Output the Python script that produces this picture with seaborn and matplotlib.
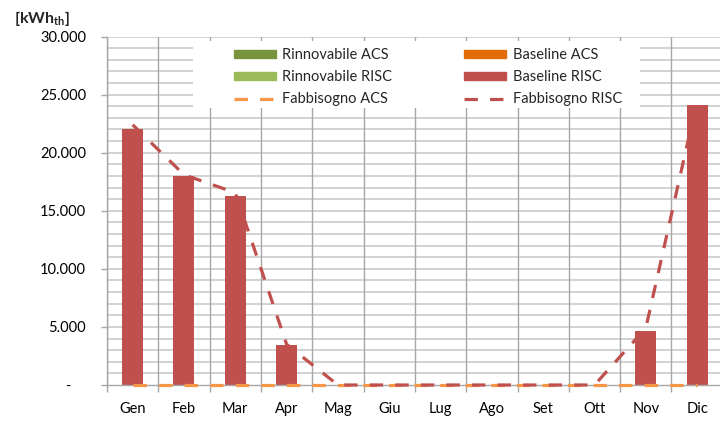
import matplotlib
matplotlib.use("Agg")
import matplotlib.pyplot as plt
from matplotlib.ticker import FixedLocator, FuncFormatter
from matplotlib.patches import Patch, Rectangle
from matplotlib.lines import Line2D
import seaborn as sns
import pandas as pd

sns.set_theme(style="white")
plt.rcParams["font.family"] = ["Lato", "DejaVu Sans"]
plt.rcParams["mathtext.fontset"] = "custom"
plt.rcParams["mathtext.rm"] = "Lato"
plt.rcParams["mathtext.bf"] = "Lato:bold"

# Monthly thermal energy [kWh_th]
mesi = ["Gen", "Feb", "Mar", "Apr", "Mag", "Giu",
        "Lug", "Ago", "Set", "Ott", "Nov", "Dic"]
rinnovabile_acs = [0, 0, 0, 0, 0, 0, 0, 0, 0, 0, 0, 0]
rinnovabile_risc = [0, 0, 0, 0, 0, 0, 0, 0, 0, 0, 0, 0]
baseline_acs = [0, 0, 0, 0, 0, 0, 0, 0, 0, 0, 0, 0]
baseline_risc = [22050, 18000, 16300, 3450, 0, 0, 0, 0, 0, 0, 4650, 24100]
fabbisogno_acs = [0, 0, 0, 0, 0, 0, 0, 0, 0, 0, 0, 0]
fabbisogno_risc = [22400, 18100, 16550, 3500, 0, 0, 0, 0, 0, 0, 4900, 24500]
y_ticks = [0, 5000, 10000, 15000, 20000, 25000, 30000]

df = pd.DataFrame({
    "mese": mesi,
    "rin_acs": rinnovabile_acs,
    "rin_risc": rinnovabile_risc,
    "base_acs": baseline_acs,
    "base_risc": baseline_risc,
    "fab_acs": fabbisogno_acs,
    "fab_risc": fabbisogno_risc,
})

C_RIN_ACS = "#77933C"
C_RIN_RISC = "#9BBB59"
C_BASE_ACS = "#E36C09"
C_BASE_RISC = "#C0504D"
C_FAB_ACS = "#F79646"
C_FAB_RISC = "#C0504D"
DASH = (4.2, 3.8)

fig = plt.figure(figsize=(7.2, 4.21), dpi=100)
W, H = 720, 421
x0, x1, y0, y1 = 107, 722.8, 385, 36.5
ax = fig.add_axes([x0 / W, 1 - y0 / H, (x1 - x0) / W, (y0 - y1) / H])

bw = 0.41
# stacked columns: renewables first, baseline on top
bottom = [0] * len(mesi)
series = [("rin_acs", C_RIN_ACS), ("rin_risc", C_RIN_RISC),
          ("base_acs", C_BASE_ACS)]
for col, color in series:
    ax.bar(range(len(mesi)), df[col], bottom=bottom, width=bw,
           color=color, linewidth=0, zorder=2)
    bottom = [b + v for b, v in zip(bottom, df[col])]
sns.barplot(data=df, x="mese", y="base_risc", ax=ax, width=bw,
            color=C_BASE_RISC, saturation=1, linewidth=0, zorder=2)

sns.lineplot(data=df, x="mese", y="fab_acs", ax=ax, sort=False,
             color=C_FAB_ACS, lw=2.3, dashes=False, zorder=3)
sns.lineplot(data=df, x="mese", y="fab_risc", ax=ax, sort=False,
             color=C_FAB_RISC, lw=2.3, dashes=False, zorder=4)
for ln in ax.lines:
    ln.set_dashes(DASH)
    ln.set_dash_capstyle("butt")
    ln.set_clip_on(False)

ax.set_xlim(-0.5, len(mesi) - 0.5)
ax.set_ylim(0, 30000)
ax.set_xlabel("")
ax.set_ylabel("")

# grid: light horizontal every 1000, darker vertical at month boundaries
for v in range(1000, 30001, 1000):
    ax.axhline(v, color="#cfcfcf", lw=1.3, zorder=0)
for b in range(len(mesi) + 1):
    ax.axvline(b - 0.5, color="#a6a6a6", lw=1.0, zorder=1)

for s in ["top", "right"]:
    ax.spines[s].set_visible(False)
for s in ["left", "bottom"]:
    ax.spines[s].set_color("#a6a6a6")
    ax.spines[s].set_linewidth(1.0)

ax.yaxis.set_major_locator(FixedLocator(y_ticks))
ax.yaxis.set_major_formatter(FuncFormatter(
    lambda v, p: "-    " if v == 0 else f"{v:,.0f}".replace(",", ".")))
ax.tick_params(axis="y", which="major", left=True, length=4, width=1,
               color="#a6a6a6", pad=11, labelsize=10.5, labelcolor="black")
ax.set_xticks(range(len(mesi)))
ax.set_xticks([b - 0.5 for b in range(len(mesi) + 1)], minor=True)
ax.tick_params(axis="x", which="major", length=0, pad=12,
               labelsize=10.5, labelcolor="black")
ax.tick_params(axis="x", which="minor", bottom=True, length=5, width=1,
               color="#a6a6a6")

fig.text(14 / W, 1 - 18 / H, r"$\mathbf{[kWh_{th}]}$", fontsize=11.5,
         ha="left", va="center")

# white legend area over the plot
ax.add_patch(Rectangle((193 / W, 1 - 108 / H), (640 - 193) / W, (108 - 41) / H,
                       transform=fig.transFigure, facecolor="white",
                       edgecolor="none", zorder=4.5, clip_on=False))

h = [
    Patch(color=C_RIN_ACS, label="Rinnovabile ACS"),
    Patch(color=C_RIN_RISC, label="Rinnovabile RISC"),
    Line2D([], [], color=C_FAB_ACS, lw=2.3, dashes=DASH,
           dash_capstyle="butt", label="Fabbisogno ACS"),
    Patch(color=C_BASE_ACS, label="Baseline ACS"),
    Patch(color=C_BASE_RISC, label="Baseline RISC"),
    Line2D([], [], color=C_FAB_RISC, lw=2.3, dashes=DASH,
           dash_capstyle="butt", label="Fabbisogno RISC"),
]
leg = ax.legend(handles=h, ncol=2, loc="upper left",
                bbox_to_anchor=(229 / W, 1 - 43 / H),
                bbox_transform=fig.transFigure,
                frameon=False, fontsize=10.5,
                handlelength=2.85, handleheight=0.45, handletextpad=0.45,
                columnspacing=4.95, labelspacing=0.55, borderpad=0.35,
                borderaxespad=0)
leg.set_zorder(5)

fig.savefig("out.png", dpi=100)
